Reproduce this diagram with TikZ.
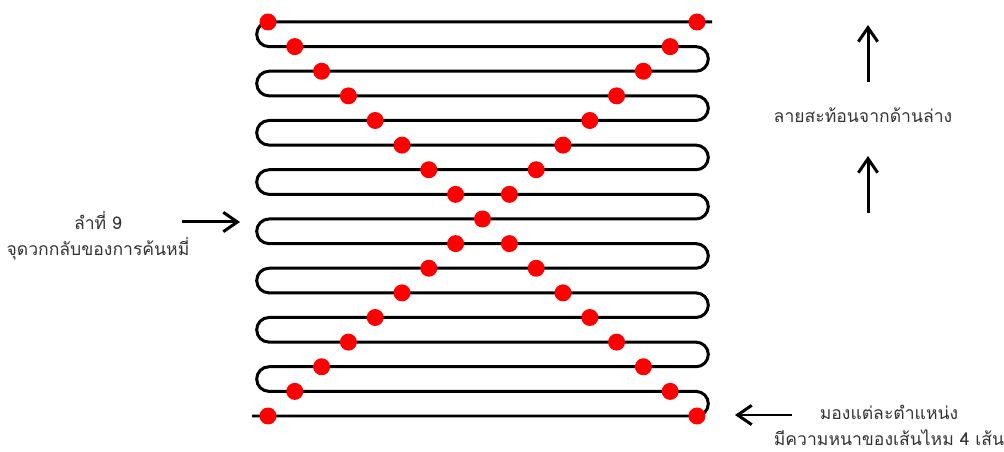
\documentclass[tikz,border=0pt]{standalone}
\usepackage{fontspec}
\newfontfamily\thaifont[Script=Thai]{Loma}
\usepackage{tikz}
\usetikzlibrary{arrows.meta, positioning}

\begin{document}
\begin{tikzpicture}[
  x=0.02cm, y=0.02cm,
  wire/.style={line width=0.06cm, line join=round},
  knot/.style={circle, fill=red, draw=none, inner sep=0pt, minimum size=0.34cm},
  note/.style={font=\thaifont\fontsize{10}{14.7}\selectfont, text=black!80, align=center, inner sep=0pt},
  pointer/.style={-{Straight Barb[length=8pt, width=11pt]}, line width=0.06cm},
]
\def\gap{24.625}
\def\rad{12.3125}
\useasboundingbox (0,0) rectangle (1004,-452);

%% Serpentine thread
\draw[wire] (712,-22) -- (269,-22)
  \foreach \k in {0,...,7} {
    arc[start angle=90, end angle=270, radius=\rad] -- (696,{-22-(2*\k+1)*\gap})
    arc[start angle=90, end angle=-90, radius=\rad] -- (269,{-22-(2*\k+2)*\gap})
  } -- (252,{-22-16*\gap});

%% Red points (upper and lower halves of the X)
\foreach \k in {0,...,7} {
  \node[knot] (ul\k) at ({268+26.8*\k}, {-22-\k*\gap}) {};
  \node[knot] (ur\k) at ({697-26.8*\k}, {-22-\k*\gap}) {};
  \node[knot] (ll\k) at ({268+26.8*\k}, {-22-(16-\k)*\gap}) {};
  \node[knot] (lr\k) at ({697-26.8*\k}, {-22-(16-\k)*\gap}) {};
}
\node[knot] (mid) at (482.5, {-22-8*\gap}) {};

%% Labels
\node[note] (turn) at (98,-236) {ลำที่ 9\\จุดวกกลับของการค้นหมี่};
\node[note] (mirror) at (863,-115) {ลายสะท้อนจากด้านล่าง};
\node[note] (thick) at (889,-425) {มองแต่ละตำแหน่ง\\มีความหนาของเส้นไหม 4 เส้น};

%% Arrows
\coordinate (turnA) at (182,-222);
\coordinate (turnB) at (240,-222);
\coordinate (upA1) at (868,-82);
\coordinate (upB1) at (868,-25);
\coordinate (upA2) at (868,-213);
\coordinate (upB2) at (868,-156);
\coordinate (thickA) at (792,-415);
\coordinate (thickB) at (735,-415);

\draw[pointer] (turnA) -- (turnB);
\draw[pointer] (upA1) -- (upB1);
\draw[pointer] (upA2) -- (upB2);
\draw[pointer] (thickA) -- (thickB);

\end{tikzpicture}
\end{document}
